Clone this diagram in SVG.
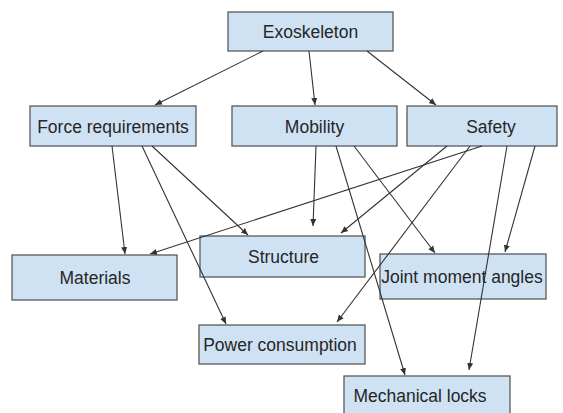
<svg xmlns="http://www.w3.org/2000/svg" width="563" height="413" viewBox="0 0 563 413">
<style>
.box{fill:#cfe2f3;stroke:#595959;stroke-width:1.3}
.lbl{font-family:"Liberation Sans",Arial,sans-serif;font-size:17.5px;fill:#262626;text-anchor:middle}
.edge{stroke:#333;stroke-width:1.1;fill:none;marker-end:url(#ah)}
</style>
<defs>
<marker id="ah" markerUnits="userSpaceOnUse" markerWidth="8" markerHeight="8" viewBox="0 0 8 8" refX="7" refY="4" orient="auto">
<path d="M0,1 L7,4 L0,7 Z" fill="#333"/>
</marker>
</defs>
<rect width="563" height="413" fill="#fff"/>
<g id="exoskeleton"><rect class="box" x="228" y="12" width="165" height="39"/><text class="lbl" x="310.5" y="38">Exoskeleton</text></g>
<g id="force"><rect class="box" x="30" y="106" width="166" height="40"/><text class="lbl" x="113" y="132.5">Force requirements</text></g>
<g id="mobility"><rect class="box" x="232" y="106" width="165" height="40"/><text class="lbl" x="314.5" y="132.5">Mobility</text></g>
<g id="safety"><rect class="box" x="407" y="106" width="150" height="40"/><text class="lbl" x="491" y="132.5">Safety</text></g>
<g id="materials"><rect class="box" x="12" y="255" width="165" height="45"/><text class="lbl" x="95" y="283.5">Materials</text></g>
<g id="structure"><rect class="box" x="200" y="236" width="165" height="41"/><text class="lbl" x="283.5" y="263">Structure</text></g>
<g id="joint"><rect class="box" x="380" y="254" width="166" height="45"/><text class="lbl" x="462" y="283">Joint moment angles</text></g>
<g id="power"><rect class="box" x="199" y="325" width="166" height="39"/><text class="lbl" x="280" y="350.5">Power consumption</text></g>
<g id="locks"><rect class="box" x="344" y="376" width="166" height="45"/><text class="lbl" x="420" y="402">Mechanical locks</text></g>
<g id="connectors">
<line class="edge" x1="263" y1="51" x2="155" y2="105"/>
<line class="edge" x1="309" y1="51" x2="315" y2="105"/>
<line class="edge" x1="367" y1="51" x2="436" y2="105"/>
<line class="edge" x1="112" y1="146" x2="125" y2="254"/>
<line class="edge" x1="152" y1="146" x2="248" y2="235"/>
<line class="edge" x1="142" y1="146" x2="226" y2="324"/>
<line class="edge" x1="316" y1="146" x2="313" y2="226"/>
<line class="edge" x1="354" y1="146" x2="435" y2="253"/>
<line class="edge" x1="336" y1="146" x2="405" y2="375"/>
<line class="edge" x1="482" y1="146" x2="150" y2="254"/>
<line class="edge" x1="447" y1="146" x2="341" y2="233"/>
<line class="edge" x1="470" y1="146" x2="337" y2="322"/>
<line class="edge" x1="535" y1="146" x2="505" y2="252"/>
<line class="edge" x1="507" y1="146" x2="469" y2="370"/>
</g>
</svg>
